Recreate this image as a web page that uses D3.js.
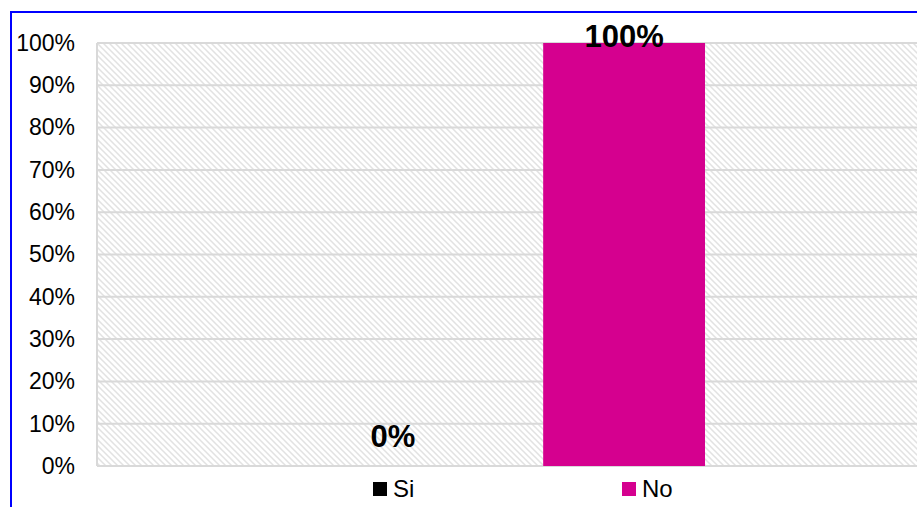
<!DOCTYPE html>
<html lang="en">
<head>
  <meta charset="UTF-8">
  <script src="https://cdn.jsdelivr.net/npm/d3@7"></script>
  <style>
    body { margin: 0; background: #fff; }
    svg { display: block; font-family: "Liberation Sans", Arial, sans-serif; }
  </style>
</head>
<body>
<svg></svg>
<script>
// chart data
var series = ["Si", "No"];
var values = [0, 1];
var colors = ["#000000", "#d5008f"];
var yTicks = [0, 0.1, 0.2, 0.3, 0.4, 0.5, 0.6, 0.7, 0.8, 0.9, 1];

var W = 917, H = 507;
var margin = {top: 43, right: -3, bottom: 41, left: 97};
var width = W - margin.left - margin.right,
    height = H - margin.top - margin.bottom;

var svg = d3.select("svg").attr("width", W).attr("height", H);

// hatched plot background
var defs = svg.append("defs");
var pat = defs.append("pattern")
  .attr("id", "hatch")
  .attr("patternUnits", "userSpaceOnUse")
  .attr("width", 6).attr("height", 6);
pat.append("rect").attr("width", 6).attr("height", 6).attr("fill", "#fff");
pat.append("path")
  .attr("d", "M-1,-1 L7,7 M-1,5 L1,7 M5,-1 L7,1")
  .attr("stroke", "#e2e2e2").attr("stroke-width", 1.5);

// outer chart border (blue, only top/left visible)
svg.append("rect")
  .attr("x", 11).attr("y", 12)
  .attr("width", W + 20).attr("height", H + 20)
  .attr("fill", "none").attr("stroke", "#0000ff").attr("stroke-width", 2);

var xScale = d3.scaleBand()
  .domain(series)
  .range([0, width])
  .paddingInner(0.3)
  .paddingOuter(0.93);

var yScale = d3.scaleLinear()
  .domain([0, 1])
  .range([height, 0]);

var inner = svg.append("g")
  .attr("transform", "translate(" + margin.left + "," + margin.top + ")");

inner.append("rect")
  .attr("width", width).attr("height", height)
  .attr("fill", "url(#hatch)");

// gridlines
inner.append("g").selectAll("line")
  .data(yTicks)
  .enter().append("line")
  .attr("x1", 0).attr("x2", width)
  .attr("y1", function(d) { return yScale(d); })
  .attr("y2", function(d) { return yScale(d); })
  .attr("stroke", "#d9d9d9").attr("stroke-width", 2);

inner.append("line")
  .attr("x1", 0).attr("x2", 0)
  .attr("y1", 0).attr("y2", height)
  .attr("stroke", "#d9d9d9").attr("stroke-width", 2);

// y axis
var yAxis = d3.axisLeft(yScale)
  .tickValues(yTicks)
  .tickFormat(d3.format(".0%"))
  .tickSize(0)
  .tickPadding(22);
var yg = inner.append("g").call(yAxis);
yg.select(".domain").remove();
yg.selectAll("text")
  .attr("font-size", 23)
  .attr("font-family", "Liberation Sans, Arial, sans-serif")
  .attr("fill", "#000");

// bars
inner.selectAll(".bar")
  .data(values)
  .enter().append("rect")
  .attr("class", "bar")
  .attr("x", function(d, i) { return xScale(series[i]); })
  .attr("width", xScale.bandwidth())
  .attr("y", function(d) { return yScale(d); })
  .attr("height", function(d) { return height - yScale(d); })
  .attr("fill", function(d, i) { return colors[i]; });

// value labels
inner.selectAll(".lbl")
  .data(values)
  .enter().append("text")
  .attr("class", "lbl")
  .attr("x", function(d, i) { return xScale(series[i]) + xScale.bandwidth() / 2; })
  .attr("y", function(d) { return Math.max(yScale(d) - 19, 4); })
  .attr("text-anchor", "middle")
  .attr("font-size", 31)
  .attr("font-weight", "bold")
  .text(function(d) { return d3.format(".0%")(d); });

// legend
var legX = d3.scalePoint().domain(series).range([373, 622]);
var leg = svg.append("g").selectAll("g")
  .data(series)
  .enter().append("g")
  .attr("transform", function(d) { return "translate(" + legX(d) + ",482)"; });
leg.append("rect")
  .attr("width", 14).attr("height", 14)
  .attr("fill", function(d, i) { return colors[i]; });
leg.append("text")
  .attr("x", 20).attr("y", 15)
  .attr("font-size", 24)
  .text(function(d) { return d; });
</script>
</body>
</html>
